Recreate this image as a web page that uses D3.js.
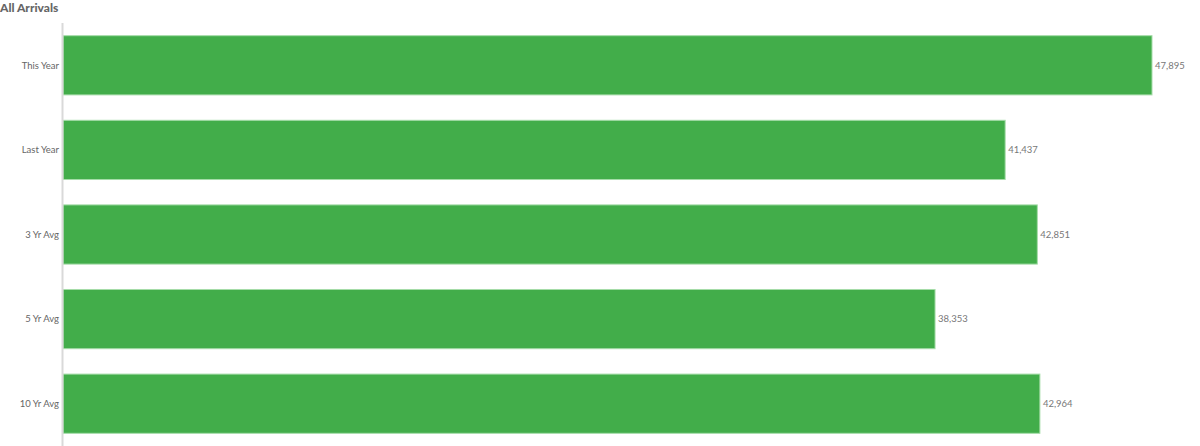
<!DOCTYPE html>
<html>
<head>
<meta charset="utf-8">
<script src="https://cdn.jsdelivr.net/npm/d3@7"></script>
<style>
  body { margin: 0; background: #fff; }
  svg { display: block; font-family: Lato, "Open Sans", sans-serif; }
</style>
</head>
<body>
<script>
var categories = ["This Year", "Last Year", "3 Yr Avg", "5 Yr Avg", "10 Yr Avg"];
var arrivals = [47895, 41437, 42851, 38353, 42964];

var width = 1200,
  height = 446,
  margin = {top: 23, right: 48, bottom: 0, left: 63};

var svg = d3.select("body").append("svg")
    .attr("width", width)
    .attr("height", height);

svg.append("text")
    .attr("x", 0)
    .attr("y", 12)
    .style("font-size", "12px")
    .style("font-weight", "900")
    .style("fill", "#666")
    .text("All Arrivals");

var x = d3.scaleLinear()
    .domain([0, d3.max(arrivals)])
    .range([margin.left, width - margin.right]);

var y = d3.scaleBand()
    .domain(categories)
    .range([margin.top, height - margin.bottom])
    .paddingInner(0.3)
    .paddingOuter(0.15);

var rows = categories.map((c, i) => ({name: c, value: arrivals[i]}));

svg.append("g").selectAll("rect")
    .data(rows)
    .enter()
    .append("rect")
    .attr("x", x(0))
    .attr("y", (d) => y(d.name))
    .attr("width", (d) => x(d.value) - x(0))
    .attr("height", y.bandwidth())
    .style("fill", "#42ad4a")
    .style("stroke", "#a6dca9")
    .style("stroke-width", 1);

// left axis line and labels
svg.append("line")
    .attr("x1", margin.left - 0.5)
    .attr("x2", margin.left - 0.5)
    .attr("y1", margin.top)
    .attr("y2", height)
    .style("stroke", "#d9d9d9")
    .style("stroke-width", 2);

svg.append("g").selectAll("text")
    .data(rows)
    .enter()
    .append("text")
    .attr("x", margin.left - 4)
    .attr("y", (d) => y(d.name) + y.bandwidth() / 2)
    .attr("dy", "0.35em")
    .attr("text-anchor", "end")
    .style("font-size", "9.5px")
    .style("fill", "#666")
    .text((d) => d.name);

var fmt = d3.format(",");
svg.append("g").selectAll("text")
    .data(rows)
    .enter()
    .append("text")
    .attr("x", (d) => x(d.value) + 3)
    .attr("y", (d) => y(d.name) + y.bandwidth() / 2)
    .attr("dy", "0.35em")
    .style("font-size", "9.5px")
    .style("fill", "#777")
    .text((d) => fmt(d.value));
</script>
</body>
</html>
